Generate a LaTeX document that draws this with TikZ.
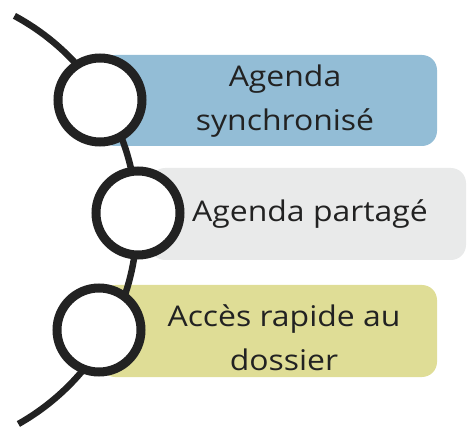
\documentclass[tikz,border=0pt]{standalone}
\usepackage{fontspec}
\setmainfont{Open Sans}[FakeStretch=1.12]
\definecolor{bleu}{HTML}{93BDD6}
\definecolor{gris}{HTML}{E9EAEA}
\definecolor{jaune}{HTML}{DFDD96}
\definecolor{encre}{HTML}{222222}
\tikzset{
  anneau/.style={circle,draw=encre,fill=white,line width=9pt,minimum size=84pt,inner sep=0pt},
  etiquette/.style={text=encre,align=center,font=\fontsize{28.5}{44}\selectfont,inner sep=0pt},
  bande/.style={rounded corners=15pt}
}
\begin{document}
\begin{tikzpicture}[x=1pt,y=-1pt]
    \useasboundingbox (0,0) rectangle (467,428);
    %bandes
    \fill[bleu,bande] (100,55) rectangle (437,146);
    \fill[gris,bande] (150,168) rectangle (466,260);
    \fill[jaune,bande] (100,285) rectangle (437,377);

    %arc
    \coordinate (centre) at (-96,221);
    \draw[encre,line width=6.5pt] (centre) ++(-61.7:233) arc[start angle=-61.7,end angle=60.6,radius=233];

    %anneaux
    \node[anneau] (c1) at (100,100) {};
    \node[anneau] (c2) at (138,213) {};
    \node[anneau] (c3) at (99,330) {};

    %textes
    \node[etiquette] (t1) at (285,101) {Agenda\\synchronisé};
    \node[etiquette] (t2) at (310,214) {Agenda partagé};
    \node[etiquette] (t3) at (284,338) {Accès rapide au\\dossier};
\end{tikzpicture}
\end{document}
